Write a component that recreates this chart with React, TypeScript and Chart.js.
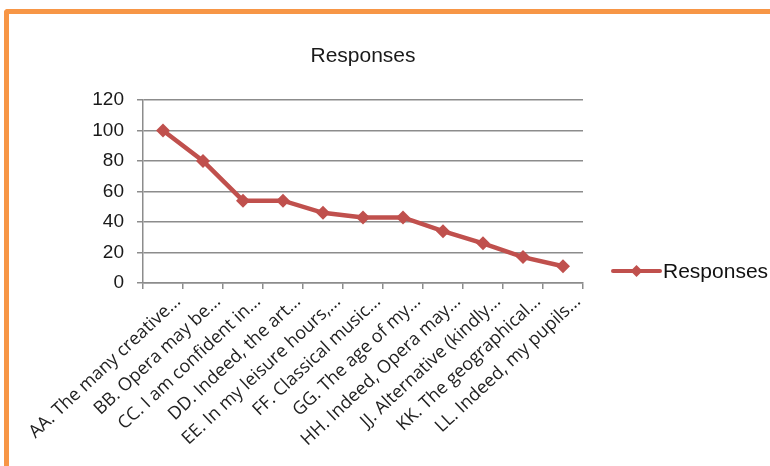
import React, { useEffect, useRef } from "react";
import { Chart, registerables } from "chart.js";

Chart.register(...registerables);

const categories: string[] = [
  "AA. The many creative...",
  "BB. Opera may be...",
  "CC. I am confident in...",
  "DD. Indeed, the art...",
  "EE. In my leisure hours,...",
  "FF. Classical music...",
  "GG. The age of my...",
  "HH. Indeed, Opera may...",
  "JJ. Alternative (kindly...",
  "KK. The geographical...",
  "LL. Indeed, my pupils...",
];

const responses: number[] = [100, 80, 54, 54, 46, 43, 43, 34, 26, 17, 11];

const yTicks: number[] = [0, 20, 40, 60, 80, 100, 120];

const seriesName = "Responses";
const chartTitle = "Responses";

const LINE_COLOR = "#C0504D";
const GRID_COLOR = "#8c8c8c";
const TEXT_FONT = "'Liberation Sans', Arial, sans-serif";
const LABEL_FONT = "'Open Sans', sans-serif";

// Title centred over the plot, plus the legend entry on the right:
// a line segment with a diamond marker, then the series name
const titleAndLegend = {
  id: "titleAndLegend",
  afterDraw(chart: Chart) {
    const ctx = chart.ctx;
    const area = chart.chartArea;
    ctx.save();

    ctx.fillStyle = "#1a1a1a";
    ctx.font = `21px ${TEXT_FONT}`;
    ctx.textBaseline = "middle";
    ctx.textAlign = "center";
    ctx.fillText(chartTitle, (area.left + area.right) / 2, area.top - 44);

    const y = area.top + (area.bottom - area.top) * 0.935;
    const x0 = area.right + 30;
    const x1 = x0 + 47;
    ctx.strokeStyle = LINE_COLOR;
    ctx.lineWidth = 4;
    ctx.lineCap = "round";
    ctx.beginPath();
    ctx.moveTo(x0, y);
    ctx.lineTo(x1, y);
    ctx.stroke();
    const cx = (x0 + x1) / 2;
    const r = 6;
    ctx.fillStyle = LINE_COLOR;
    ctx.beginPath();
    ctx.moveTo(cx, y - r);
    ctx.lineTo(cx + r, y);
    ctx.lineTo(cx, y + r);
    ctx.lineTo(cx - r, y);
    ctx.closePath();
    ctx.fill();
    ctx.fillStyle = "#111";
    ctx.textAlign = "left";
    ctx.fillText(seriesName, x1 + 3, y + 1);
    ctx.restore();
  },
};

export default function App() {
  const canvasRef = useRef<HTMLCanvasElement | null>(null);

  useEffect(() => {
    if (!canvasRef.current) return;
    const chart = new Chart(canvasRef.current, {
      type: "line",
      data: {
        labels: categories,
        datasets: [
          {
            label: seriesName,
            data: responses,
            borderColor: LINE_COLOR,
            backgroundColor: LINE_COLOR,
            borderWidth: 4.5,
            pointStyle: "rectRot",
            pointRadius: 7,
            pointBorderWidth: 0,
            pointBackgroundColor: LINE_COLOR,
            tension: 0,
          },
        ],
      },
      options: {
        responsive: false,
        animation: false,
        layout: { padding: { left: 0, right: 187, top: 100, bottom: 0 } },
        plugins: {
          legend: { display: false },
          tooltip: { enabled: false },
          title: { display: false },
        },
        scales: {
          x: {
            offset: true,
            grid: {
              offset: true,
              drawOnChartArea: false,
              drawTicks: true,
              tickLength: 6,
              color: GRID_COLOR,
              lineWidth: 1.5,
            },
            border: { color: GRID_COLOR, width: 1.5 },
            ticks: {
              autoSkip: false,
              minRotation: 43,
              maxRotation: 43,
              labelOffset: 15,
              padding: 2,
              color: "#222",
              font: { family: LABEL_FONT, size: 18 },
            },
            afterFit: (s: any) => {
              s.height = 183;
            },
          },
          y: {
            min: 0,
            max: 120,
            afterBuildTicks: (s: any) => {
              s.ticks = yTicks.map((v) => ({ value: v }));
            },
            grid: {
              color: GRID_COLOR,
              lineWidth: 1.5,
              drawTicks: true,
              tickLength: 6,
            },
            border: { color: GRID_COLOR, width: 1.5 },
            ticks: {
              padding: 13,
              color: "#1a1a1a",
              font: { family: TEXT_FONT, size: 19 },
            },
            afterFit: (s: any) => {
              s.width = 143;
            },
          },
        },
      },
      plugins: [titleAndLegend],
    });
    return () => chart.destroy();
  }, []);

  return (
    <div
      style={{
        position: "fixed",
        left: 0,
        top: 0,
        width: 770,
        height: 466,
        background: "#fff",
        overflow: "hidden",
      }}
    >
      <div
        style={{
          position: "absolute",
          left: 4,
          top: 9,
          width: 900,
          height: 600,
          borderLeft: "5px solid #F79646",
          borderTop: "5px solid #F79646",
          borderTopLeftRadius: 4,
          boxSizing: "border-box",
        }}
      />
      <canvas
        ref={canvasRef}
        width={770}
        height={466}
        style={{ position: "absolute", left: 0, top: 0, width: 770, height: 466 }}
      />
    </div>
  );
}
